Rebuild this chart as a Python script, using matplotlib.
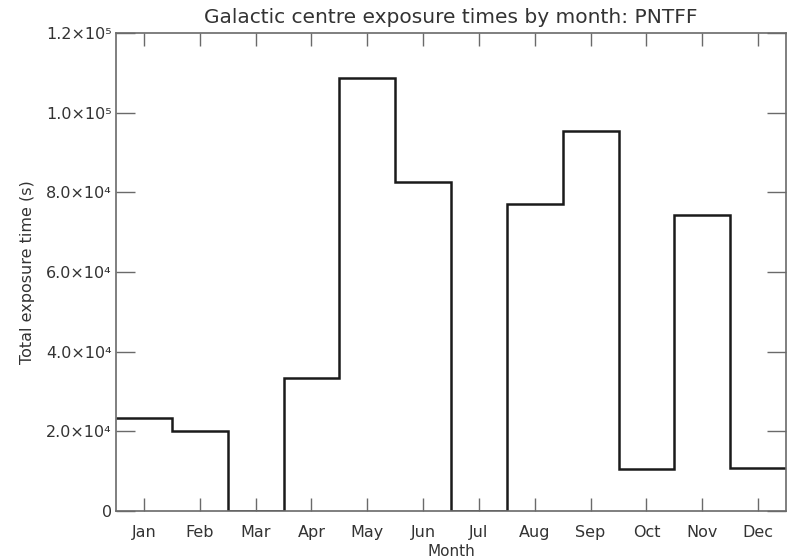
import numpy as np
import matplotlib
matplotlib.use('Agg')
import matplotlib.pyplot as plt
from matplotlib.ticker import FixedLocator

# Exposure time per month (s)
months = ['Jan', 'Feb', 'Mar', 'Apr', 'May', 'Jun',
          'Jul', 'Aug', 'Sep', 'Oct', 'Nov', 'Dec']
exposure = [23400, 20000, 0, 33400, 108800, 82700,
            0, 77100, 95300, 10500, 74300, 10700]

y_ticks = [0, 20000, 40000, 60000, 80000, 100000, 120000]
y_labels = ['0', '2.0×10⁴', '4.0×10⁴', '6.0×10⁴', '8.0×10⁴', '1.0×10⁵', '1.2×10⁵']

axis_col = '#6a6a6a'
text_col = '#333333'

fig = plt.figure(figsize=(7.88, 5.59), dpi=100)
ax = fig.add_axes([0.1472, 0.0859, 0.8503, 0.8551])

x = np.arange(1, len(months) + 1)
edges = np.arange(0.5, len(months) + 1, 1.0)
ax.stairs(exposure, edges, baseline=None, color='#1a1a1a', lw=1.8)

ax.set_xlim(0.5, 12.5)
ax.set_ylim(0, 120000)

ax.xaxis.set_major_locator(FixedLocator(x))
ax.set_xticklabels(months)
ax.yaxis.set_major_locator(FixedLocator(y_ticks))
ax.set_yticklabels(y_labels)

ax.tick_params(axis='x', direction='in', length=9.5, width=1.0, color=axis_col,
               top=True, bottom=True, labelsize=11.5, labelcolor=text_col, pad=10)
ax.tick_params(axis='y', direction='in', length=13.5, width=1.0, color=axis_col,
               left=True, right=True, labelsize=11.5, labelcolor=text_col, pad=3)

for s in ax.spines.values():
    s.set_color(axis_col)
    s.set_linewidth(1.2)

ax.set_title('Galactic centre exposure times by month: PNTFF', fontsize=14.5,
             color=text_col, pad=7)
ax.set_xlabel('Month', fontsize=11, color=text_col, labelpad=3)
ax.set_ylabel('Total exposure time (s)', fontsize=11.5, color=text_col, labelpad=8)

fig.savefig('out.png', dpi=100)
